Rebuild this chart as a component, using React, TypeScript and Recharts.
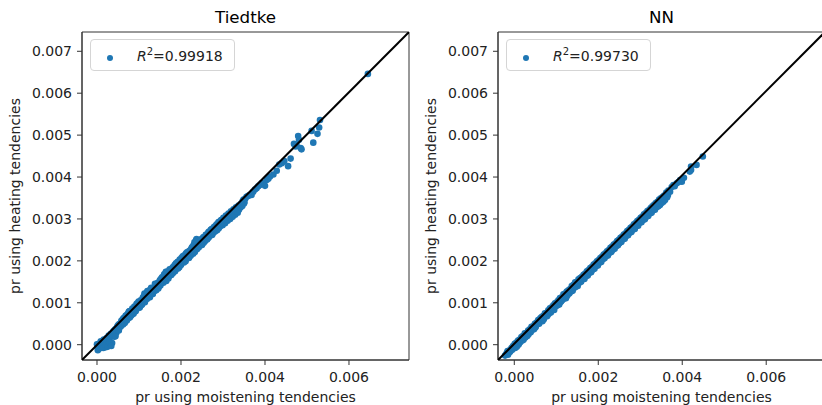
import React from 'react';
import { ScatterChart, Scatter, XAxis, YAxis, ReferenceArea, Legend } from 'recharts';

const FONT = '"DejaVu Sans", sans-serif';
const BLUE = '#1f77b4';
const TEXT = '#222';

const xTicks = [0, 0.002, 0.004, 0.006];
const yTicks = [0, 0.001, 0.002, 0.003, 0.004, 0.005, 0.006, 0.007];
const xLabel = 'pr using moistening tendencies';
const yLabel = 'pr using heating tendencies';
const titles = ['Tiedtke', 'NN'];
const r2Values = ['0.99918', '0.99730'];

// [pr using moistening tendencies, pr using heating tendencies]
const tiedtkePoints: [number, number][] = [
  [0, 1e-5], [1e-5, -6e-5], [2e-5, -13e-5], [4e-5, 2e-5], [5e-5, -8e-5], [7e-5, -3e-5], [9e-5, 8e-5],
  [10e-5, -7e-5], [12e-5, 3e-5], [14e-5, -5e-5], [16e-5, 12e-5], [17e-5, -2e-5], [19e-5, 5e-5],
  [21e-5, -6e-5], [23e-5, 16e-5], [24e-5, 6e-5], [26e-5, -3e-5], [28e-5, 22e-5], [30e-5, 14e-5],
  [31e-5, 3e-5], [33e-5, 26e-5], [35e-5, 22e-5], [36e-5, 4e-5], [38e-5, 30e-5], [40e-5, 33e-5],
  [41e-5, 19e-5], [43e-5, 36e-5], [45e-5, 38e-5], [46e-5, 28e-5], [48e-5, 43e-5], [50e-5, 46e-5],
  [51e-5, 38e-5], [53e-5, 49e-5], [55e-5, 50e-5], [56e-5, 43e-5], [58e-5, 57e-5], [60e-5, 56e-5],
  [62e-5, 48e-5], [63e-5, 63e-5], [65e-5, 64e-5], [67e-5, 55e-5], [68e-5, 69e-5], [70e-5, 70e-5],
  [72e-5, 60e-5], [73e-5, 73e-5], [75e-5, 76e-5], [77e-5, 64e-5], [78e-5, 80e-5], [80e-5, 80e-5],
  [82e-5, 70e-5], [84e-5, 86e-5], [85e-5, 82e-5], [87e-5, 74e-5], [89e-5, 91e-5], [90e-5, 87e-5],
  [92e-5, 80e-5], [94e-5, 97e-5], [95e-5, 93e-5], [97e-5, 87e-5], [99e-5, 103e-5], [100e-5, 98e-5],
  [102e-5, 90e-5], [104e-5, 106e-5], [105e-5, 104e-5], [107e-5, 96e-5], [109e-5, 112e-5],
  [110e-5, 109e-5], [112e-5, 102e-5], [113e-5, 122e-5], [115e-5, 118e-5], [117e-5, 110e-5],
  [118e-5, 124e-5], [120e-5, 128e-5], [122e-5, 114e-5], [123e-5, 127e-5], [125e-5, 130e-5],
  [127e-5, 120e-5], [128e-5, 131e-5], [130e-5, 132e-5], [132e-5, 126e-5], [134e-5, 134e-5],
  [135e-5, 136e-5], [137e-5, 128e-5], [139e-5, 141e-5], [140e-5, 142e-5], [142e-5, 134e-5],
  [144e-5, 147e-5], [145e-5, 146e-5], [147e-5, 138e-5], [149e-5, 151e-5], [150e-5, 154e-5],
  [152e-5, 146e-5], [154e-5, 157e-5], [155e-5, 161e-5], [157e-5, 150e-5], [159e-5, 165e-5],
  [160e-5, 168e-5], [162e-5, 157e-5], [164e-5, 174e-5], [166e-5, 174e-5], [167e-5, 163e-5],
  [169e-5, 172e-5], [171e-5, 175e-5], [172e-5, 164e-5], [174e-5, 177e-5], [176e-5, 180e-5],
  [178e-5, 170e-5], [180e-5, 184e-5], [182e-5, 186e-5], [183e-5, 175e-5], [185e-5, 190e-5],
  [187e-5, 191e-5], [189e-5, 181e-5], [190e-5, 194e-5], [192e-5, 198e-5], [194e-5, 187e-5],
  [195e-5, 198e-5], [197e-5, 203e-5], [199e-5, 192e-5], [201e-5, 207e-5], [203e-5, 207e-5],
  [205e-5, 198e-5], [206e-5, 210e-5], [208e-5, 213e-5], [210e-5, 202e-5], [212e-5, 218e-5],
  [214e-5, 217e-5], [216e-5, 207e-5], [218e-5, 220e-5], [220e-5, 224e-5], [222e-5, 213e-5],
  [224e-5, 228e-5], [226e-5, 232e-5], [228e-5, 223e-5], [230e-5, 238e-5], [232e-5, 244e-5],
  [234e-5, 232e-5], [236e-5, 249e-5], [237e-5, 252e-5], [239e-5, 240e-5], [241e-5, 246e-5],
  [243e-5, 248e-5], [245e-5, 236e-5], [247e-5, 247e-5], [249e-5, 252e-5], [251e-5, 242e-5],
  [253e-5, 256e-5], [255e-5, 257e-5], [257e-5, 247e-5], [259e-5, 262e-5], [261e-5, 263e-5],
  [263e-5, 253e-5], [265e-5, 268e-5], [267e-5, 270e-5], [269e-5, 260e-5], [271e-5, 274e-5],
  [273e-5, 276e-5], [275e-5, 264e-5], [277e-5, 278e-5], [279e-5, 281e-5], [281e-5, 270e-5],
  [283e-5, 284e-5], [285e-5, 287e-5], [287e-5, 276e-5], [289e-5, 292e-5], [291e-5, 293e-5],
  [293e-5, 282e-5], [295e-5, 297e-5], [297e-5, 298e-5], [299e-5, 285e-5], [301e-5, 303e-5],
  [303e-5, 302e-5], [305e-5, 290e-5], [307e-5, 308e-5], [309e-5, 305e-5], [311e-5, 296e-5],
  [313e-5, 313e-5], [315e-5, 310e-5], [317e-5, 300e-5], [319e-5, 318e-5], [321e-5, 314e-5],
  [323e-5, 305e-5], [325e-5, 323e-5], [327e-5, 318e-5], [329e-5, 310e-5], [331e-5, 328e-5],
  [333e-5, 322e-5], [335e-5, 315e-5], [337e-5, 332e-5], [339e-5, 325e-5], [341e-5, 330e-5],
  [343e-5, 336e-5], [345e-5, 335e-5], [347e-5, 343e-5], [349e-5, 346e-5], [351e-5, 340e-5],
  [3e-5, -4e-5], [6e-5, -9e-5], [11e-5, -2e-5], [15e-5, -8e-5], [20e-5, 0], [25e-5, -5e-5],
  [29e-5, 6e-5], [34e-5, -3e-5], [39e-5, 24e-5], [44e-5, 20e-5], [47e-5, 35e-5], [52e-5, 34e-5],
  [57e-5, 45e-5], [61e-5, 60e-5], [66e-5, 52e-5], [71e-5, 58e-5], [76e-5, 79e-5], [79e-5, 66e-5],
  [83e-5, 72e-5], [88e-5, 78e-5], [93e-5, 83e-5], [96e-5, 99e-5], [101e-5, 88e-5], [106e-5, 95e-5],
  [111e-5, 115e-5], [114e-5, 101e-5], [119e-5, 109e-5], [121e-5, 127e-5], [126e-5, 113e-5],
  [129e-5, 136e-5], [133e-5, 121e-5], [138e-5, 145e-5], [141e-5, 130e-5], [146e-5, 134e-5],
  [151e-5, 141e-5], [153e-5, 158e-5], [158e-5, 148e-5], [163e-5, 170e-5], [165e-5, 152e-5],
  [170e-5, 158e-5], [173e-5, 180e-5], [177e-5, 166e-5], [181e-5, 171e-5], [186e-5, 175e-5],
  [188e-5, 194e-5], [193e-5, 182e-5], [196e-5, 185e-5], [200e-5, 190e-5], [204e-5, 211e-5],
  [207e-5, 196e-5], [211e-5, 199e-5], [215e-5, 221e-5], [219e-5, 207e-5], [223e-5, 212e-5],
  [227e-5, 233e-5], [229e-5, 217e-5], [233e-5, 221e-5], [235e-5, 246e-5], [238e-5, 228e-5],
  [242e-5, 232e-5], [246e-5, 250e-5], [250e-5, 238e-5], [254e-5, 243e-5], [258e-5, 249e-5],
  [262e-5, 251e-5], [266e-5, 256e-5], [270e-5, 264e-5], [274e-5, 262e-5], [278e-5, 268e-5],
  [282e-5, 278e-5], [286e-5, 273e-5], [290e-5, 278e-5], [294e-5, 287e-5], [298e-5, 290e-5],
  [302e-5, 292e-5], [306e-5, 296e-5], [310e-5, 300e-5], [314e-5, 304e-5], [318e-5, 308e-5],
  [322e-5, 310e-5], [326e-5, 312e-5], [330e-5, 319e-5], [334e-5, 318e-5], [338e-5, 322e-5],
  [342e-5, 328e-5], [346e-5, 331e-5], [350e-5, 337e-5],
  [353e-5, 348e-5], [356e-5, 353e-5], [360e-5, 355e-5], [364e-5, 357e-5], [368e-5, 357e-5],
  [372e-5, 365e-5], [376e-5, 370e-5], [380e-5, 373e-5], [384e-5, 378e-5], [388e-5, 381e-5],
  [392e-5, 385e-5], [396e-5, 385e-5], [400e-5, 379e-5], [404e-5, 393e-5], [408e-5, 396e-5],
  [412e-5, 401e-5], [420e-5, 406e-5], [428e-5, 415e-5], [434e-5, 430e-5], [440e-5, 433e-5],
  [446e-5, 438e-5], [455e-5, 426e-5], [461e-5, 444e-5], [469e-5, 479e-5], [473e-5, 473e-5],
  [475e-5, 477e-5], [479e-5, 498e-5], [481e-5, 489e-5], [485e-5, 469e-5], [487e-5, 466e-5],
  [511e-5, 510e-5], [515e-5, 482e-5], [525e-5, 503e-5], [529e-5, 518e-5], [531e-5, 536e-5],
  [645e-5, 646e-5],
];

const nnPoints: [number, number][] = [
  [-22e-5, -26e-5], [-18e-5, -20e-5], [-15e-5, -24e-5], [-12e-5, -14e-5], [-10e-5, -17e-5],
  [-7e-5, -8e-5], [-5e-5, -12e-5], [-3e-5, -3e-5], [-1e-5, -7e-5], [1e-5, 2e-5], [3e-5, -4e-5],
  [5e-5, 5e-5], [7e-5, 2e-5], [9e-5, 10e-5], [11e-5, 3e-5], [13e-5, 12e-5], [15e-5, 9e-5],
  [17e-5, 18e-5], [19e-5, 10e-5], [21e-5, 21e-5], [23e-5, 16e-5], [25e-5, 27e-5], [27e-5, 19e-5],
  [29e-5, 28e-5], [31e-5, 21e-5], [33e-5, 34e-5], [35e-5, 29e-5], [37e-5, 37e-5], [39e-5, 30e-5],
  [41e-5, 43e-5], [43e-5, 36e-5], [45e-5, 44e-5], [47e-5, 37e-5], [49e-5, 50e-5], [51e-5, 43e-5],
  [53e-5, 53e-5], [55e-5, 49e-5], [57e-5, 59e-5], [59e-5, 50e-5], [61e-5, 60e-5], [63e-5, 56e-5],
  [65e-5, 66e-5], [67e-5, 56e-5], [69e-5, 69e-5], [71e-5, 63e-5], [73e-5, 75e-5], [75e-5, 69e-5],
  [77e-5, 76e-5], [79e-5, 70e-5], [81e-5, 82e-5], [83e-5, 76e-5], [85e-5, 87e-5], [87e-5, 77e-5],
  [89e-5, 89e-5], [91e-5, 83e-5], [93e-5, 94e-5], [95e-5, 83e-5], [97e-5, 99e-5], [99e-5, 92e-5],
  [101e-5, 101e-5], [103e-5, 94e-5], [105e-5, 106e-5], [107e-5, 96e-5], [109e-5, 111e-5],
  [111e-5, 103e-5], [113e-5, 113e-5], [115e-5, 109e-5], [117e-5, 120e-5], [119e-5, 110e-5],
  [121e-5, 122e-5], [123e-5, 111e-5], [125e-5, 127e-5], [127e-5, 120e-5], [129e-5, 130e-5],
  [131e-5, 122e-5], [133e-5, 133e-5], [135e-5, 127e-5], [137e-5, 140e-5], [139e-5, 129e-5],
  [141e-5, 143e-5], [143e-5, 136e-5], [145e-5, 149e-5], [147e-5, 139e-5], [149e-5, 150e-5],
  [151e-5, 140e-5], [153e-5, 156e-5], [155e-5, 149e-5], [157e-5, 159e-5], [159e-5, 150e-5],
  [161e-5, 162e-5], [163e-5, 156e-5], [165e-5, 167e-5], [167e-5, 157e-5], [169e-5, 170e-5],
  [171e-5, 164e-5], [173e-5, 175e-5], [175e-5, 165e-5], [177e-5, 178e-5], [179e-5, 172e-5],
  [181e-5, 183e-5], [183e-5, 173e-5], [185e-5, 186e-5], [187e-5, 180e-5], [189e-5, 191e-5],
  [191e-5, 181e-5], [193e-5, 194e-5], [195e-5, 188e-5], [197e-5, 199e-5], [199e-5, 189e-5],
  [201e-5, 202e-5], [203e-5, 196e-5], [205e-5, 207e-5], [207e-5, 197e-5], [209e-5, 210e-5],
  [211e-5, 205e-5], [213e-5, 215e-5], [215e-5, 206e-5], [217e-5, 218e-5], [219e-5, 212e-5],
  [221e-5, 223e-5], [223e-5, 213e-5], [225e-5, 226e-5], [227e-5, 220e-5], [229e-5, 231e-5],
  [231e-5, 221e-5], [233e-5, 234e-5], [235e-5, 228e-5], [237e-5, 239e-5], [239e-5, 229e-5],
  [241e-5, 242e-5], [243e-5, 236e-5], [245e-5, 247e-5], [247e-5, 237e-5], [249e-5, 250e-5],
  [251e-5, 244e-5], [253e-5, 255e-5], [255e-5, 245e-5], [257e-5, 258e-5], [259e-5, 252e-5],
  [261e-5, 263e-5], [263e-5, 253e-5], [265e-5, 266e-5], [267e-5, 260e-5], [269e-5, 271e-5],
  [271e-5, 261e-5], [273e-5, 274e-5], [275e-5, 267e-5], [277e-5, 279e-5], [279e-5, 269e-5],
  [281e-5, 282e-5], [283e-5, 275e-5], [285e-5, 287e-5], [287e-5, 276e-5], [289e-5, 290e-5],
  [291e-5, 283e-5], [293e-5, 295e-5], [295e-5, 284e-5], [297e-5, 298e-5], [299e-5, 291e-5],
  [301e-5, 303e-5], [303e-5, 292e-5], [305e-5, 306e-5], [307e-5, 298e-5], [309e-5, 311e-5],
  [311e-5, 299e-5], [313e-5, 314e-5], [315e-5, 306e-5], [317e-5, 319e-5], [319e-5, 307e-5],
  [321e-5, 321e-5], [323e-5, 313e-5], [325e-5, 326e-5], [327e-5, 315e-5], [329e-5, 330e-5],
  [331e-5, 321e-5], [333e-5, 334e-5], [335e-5, 322e-5], [337e-5, 338e-5], [339e-5, 328e-5],
  [341e-5, 341e-5], [343e-5, 330e-5], [345e-5, 346e-5], [347e-5, 333e-5], [349e-5, 349e-5],
  [351e-5, 338e-5], [353e-5, 352e-5], [355e-5, 341e-5], [357e-5, 356e-5], [359e-5, 345e-5],
  [-20e-5, -24e-5], [-16e-5, -15e-5], [-13e-5, -19e-5], [-8e-5, -13e-5], [-4e-5, -9e-5], [0, -5e-5],
  [2e-5, -8e-5], [6e-5, -5e-5], [10e-5, 0], [14e-5, 6e-5], [18e-5, 11e-5], [22e-5, 12e-5],
  [26e-5, 17e-5], [30e-5, 27e-5], [34e-5, 25e-5], [38e-5, 31e-5], [42e-5, 35e-5], [46e-5, 43e-5],
  [50e-5, 41e-5], [54e-5, 48e-5], [58e-5, 51e-5], [62e-5, 63e-5], [66e-5, 60e-5], [70e-5, 60e-5],
  [74e-5, 73e-5], [78e-5, 68e-5], [82e-5, 74e-5], [86e-5, 79e-5], [90e-5, 86e-5], [94e-5, 85e-5],
  [98e-5, 92e-5], [102e-5, 96e-5], [106e-5, 100e-5], [110e-5, 102e-5], [114e-5, 106e-5],
  [118e-5, 112e-5], [122e-5, 116e-5], [126e-5, 117e-5], [130e-5, 125e-5], [134e-5, 127e-5],
  [138e-5, 130e-5], [142e-5, 138e-5], [146e-5, 138e-5], [150e-5, 146e-5], [154e-5, 147e-5],
  [158e-5, 151e-5], [162e-5, 157e-5], [166e-5, 159e-5], [170e-5, 163e-5], [174e-5, 168e-5],
  [178e-5, 171e-5], [182e-5, 176e-5], [186e-5, 179e-5], [190e-5, 184e-5], [194e-5, 189e-5],
  [198e-5, 190e-5], [202e-5, 197e-5], [206e-5, 199e-5], [210e-5, 203e-5], [214e-5, 209e-5],
  [218e-5, 211e-5], [222e-5, 216e-5], [226e-5, 219e-5], [230e-5, 225e-5], [234e-5, 226e-5],
  [238e-5, 232e-5], [242e-5, 235e-5], [246e-5, 239e-5], [250e-5, 242e-5], [254e-5, 248e-5],
  [258e-5, 251e-5], [262e-5, 254e-5], [266e-5, 260e-5], [270e-5, 262e-5], [274e-5, 268e-5],
  [278e-5, 270e-5], [282e-5, 276e-5], [286e-5, 278e-5], [290e-5, 283e-5], [294e-5, 286e-5],
  [298e-5, 292e-5], [302e-5, 294e-5], [306e-5, 299e-5], [310e-5, 301e-5], [314e-5, 306e-5],
  [318e-5, 309e-5], [322e-5, 314e-5], [326e-5, 316e-5], [330e-5, 323e-5], [334e-5, 325e-5],
  [338e-5, 330e-5], [342e-5, 333e-5], [346e-5, 337e-5], [350e-5, 341e-5], [354e-5, 346e-5],
  [358e-5, 348e-5], [363e-5, 355e-5], [366e-5, 357e-5],
  [362e-5, 363e-5], [364e-5, 352e-5], [367e-5, 368e-5], [371e-5, 365e-5], [375e-5, 376e-5],
  [379e-5, 381e-5], [382e-5, 378e-5], [387e-5, 385e-5], [391e-5, 388e-5], [395e-5, 393e-5],
  [399e-5, 389e-5], [404e-5, 398e-5], [418e-5, 413e-5], [421e-5, 417e-5], [421e-5, 425e-5],
  [434e-5, 429e-5], [449e-5, 449e-5],
];

const xDomains: [number, number][] = [
  [-0.000357, 0.007429],
  [-0.000388, 0.0074],
];
const yDomain: [number, number] = [-0.000365, 0.00746];

const fmt = (v: number) => v.toFixed(3);

const Dot = (props: any) => {
  const { cx, cy } = props;
  if (cx == null || cy == null) return <g />;
  return <circle cx={cx} cy={cy} r={3.3} fill={BLUE} />;
};
const NoDot = () => <g />;

function Panel({
  title,
  r2,
  points,
  xDomain,
  left,
}: {
  title: string;
  r2: string;
  points: [number, number][];
  xDomain: [number, number];
  left: number;
}) {
  const data = points.map(([x, y]) => ({ x, y }));
  const diagonal = [
    { x: xDomain[0], y: yDomain[0] },
    { x: xDomain[1], y: yDomain[1] },
  ];
  const tickStyle = { fill: TEXT, fontSize: 14, fontFamily: FONT };
  return (
    <div style={{ position: 'absolute', left, top: 0 }}>
      <ScatterChart width={420} height={405} margin={{ top: 32, right: 11, bottom: 0, left: 0 }}>
        <XAxis
          type="number"
          dataKey="x"
          domain={xDomain}
          allowDataOverflow
          ticks={xTicks}
          tickFormatter={fmt}
          tickSize={5}
          tickMargin={7}
          height={45}
          stroke="#333"
          tick={tickStyle}
          interval={0}
        />
        <YAxis
          type="number"
          dataKey="y"
          domain={yDomain}
          allowDataOverflow
          ticks={yTicks}
          tickFormatter={fmt}
          tickSize={5}
          tickMargin={5}
          width={82}
          stroke="#333"
          tick={tickStyle}
          interval={0}
        />
        <ReferenceArea
          x1={xDomain[0]}
          x2={xDomain[1]}
          y1={yDomain[0]}
          y2={yDomain[1]}
          fill="none"
          fillOpacity={0}
          stroke="#333"
          strokeWidth={1}
          ifOverflow="visible"
        />
        <Scatter data={data} fill={BLUE} shape={Dot} isAnimationActive={false} legendType="none" />
        <Scatter
          data={diagonal}
          line={{ stroke: '#000', strokeWidth: 2 }}
          lineType="joint"
          shape={NoDot}
          isAnimationActive={false}
          legendType="none"
        />
        <Legend
          verticalAlign="middle"
          align="center"
          layout="horizontal"
          wrapperStyle={{ left: 90, top: 39, width: 145, height: 32 }}
          content={() => (
            <div
              style={{
                boxSizing: 'border-box',
                width: 145,
                height: 32,
                border: '1px solid #d5d5d5',
                borderRadius: 4,
                background: 'rgba(255,255,255,0.8)',
                position: 'relative',
                fontFamily: FONT,
                fontSize: 14,
                color: TEXT,
              }}
            >
              <span
                style={{
                  position: 'absolute',
                  left: 16,
                  top: 15,
                  width: 6,
                  height: 6,
                  borderRadius: '50%',
                  background: BLUE,
                }}
              />
              <span
                style={{
                  position: 'absolute',
                  left: 46,
                  top: 7,
                  lineHeight: '18px',
                  whiteSpace: 'nowrap',
                }}
              >
                <i>R</i>
                <span style={{ fontSize: 10, position: 'relative', top: -6 }}>2</span>=
                {r2}
              </span>
            </div>
          )}
        />
        <text x={245.5} y={23} textAnchor="middle" fontSize={16.7} fontFamily={FONT} fill="#000">
          {title}
        </text>
        <text x={245.5} y={402} textAnchor="middle" fontSize={14} fontFamily={FONT} fill={TEXT}>
          {xLabel}
        </text>
        <text
          transform="translate(20,196) rotate(-90)"
          x={0}
          y={0}
          textAnchor="middle"
          fontSize={14}
          fontFamily={FONT}
          fill={TEXT}
        >
          {yLabel}
        </text>
      </ScatterChart>
    </div>
  );
}

export default function App() {
  return (
    <div
      style={{
        position: 'absolute',
        left: 0,
        top: 0,
        width: 822,
        height: 405,
        overflow: 'hidden',
        background: '#fff',
      }}
    >
      <Panel title={titles[0]} r2={r2Values[0]} points={tiedtkePoints} xDomain={xDomains[0]} left={0} />
      <Panel title={titles[1]} r2={r2Values[1]} points={nnPoints} xDomain={xDomains[1]} left={416} />
    </div>
  );
}
